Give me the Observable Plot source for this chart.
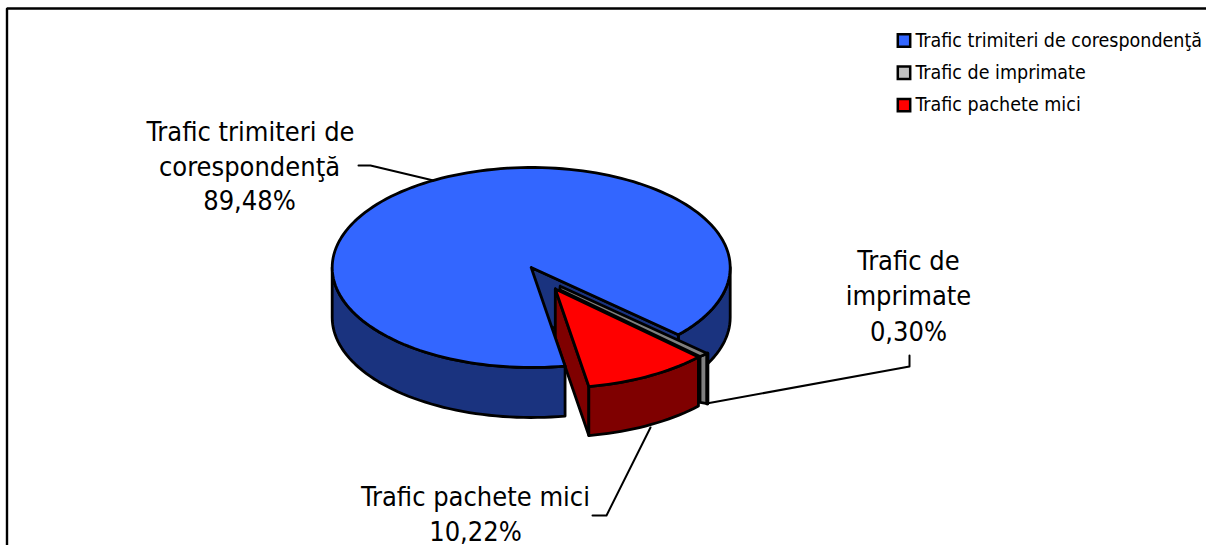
<!DOCTYPE html>
<html><head><meta charset="utf-8">
<script src="https://cdn.jsdelivr.net/npm/d3@7"></script>
<script src="https://cdn.jsdelivr.net/npm/@observablehq/plot@0.6"></script>
<style>html,body{margin:0;padding:0;background:#fff}svg{display:block}</style>
</head><body><div id="chart"></div>
<script>
const categories = ["Trafic trimiteri de corespondenţă", "Trafic de imprimate", "Trafic pachete mici"];
const shares = [89.48, 0.30, 10.22];
const shareLabels = ["89,48%", "0,30%", "10,22%"];
const topColors = ["#3366ff", "#c0c0c0", "#ff0000"];
const wallColors = ["#1a337f", "#808080", "#7f0000"];

const W = 1206, H = 545;
const cx = 530.7, cy = 267, rx = 199, ry = 100, depth = 50;
const startDeg = 80.2;
const strokeW = 2.8;
const font = "'DejaVu Sans Condensed','DejaVu Sans',sans-serif";
// exploded slice placement: [dx, dy, radius scale, depth]
const placeBlue = [0, 0, 1, depth];
const placeGreyUpper = [29, 18.7, 1, depth];
const placeGreyLower = [28.6, 22.3, 0.97, 46];
const placeRed = [24.1, 21.5, 0.99, 49];

let a = startDeg;
const spans = shares.map(s => { const r = [a, a + s * 3.6]; a = r[1]; return r; });
const [blue, grey, red] = spans;
const pt = (p, deg, down = false) => {
  const t = deg * Math.PI / 180;
  return {x: cx + p[0] + p[2] * rx * Math.cos(t), y: cy + p[1] + p[2] * ry * Math.sin(t) + (down ? p[3] : 0)};
};
const apex = (p, down = false) => ({x: cx + p[0], y: cy + p[1] + (down ? p[3] : 0)});
const arc = (p, from, to, down = false) => {
  const n = Math.max(2, Math.ceil(Math.abs(to - from) / 2)), out = [];
  for (let k = 0; k <= n; k++) out.push(pt(p, from + (to - from) * k / n, down));
  return out;
};
const closed = q => [...q, q[0]];
const poly = (q, fill) => Plot.line(closed(q), {x: "x", y: "y", fill, stroke: "#000", strokeWidth: strokeW, strokeLinejoin: "round", curve: "linear"});
const topFace = (p, span, fill) => poly([apex(p), ...arc(p, span[0], span[1])], fill);
const wall = (p, from, to, fill) => poly([...arc(p, from, to), ...arc(p, to, from, true)], fill);
const cut = (p, deg, fill) => poly([apex(p), pt(p, deg), pt(p, deg, true), apex(p, true)], fill);

const leaders = [
  [{x: 358, y: 165}, {x: 370, y: 165}, {x: 433, y: 180}],
  [{x: 909, y: 355}, {x: 909, y: 366}, {x: 706, y: 403}],
  [{x: 592, y: 515}, {x: 606, y: 515}, {x: 650, y: 427}]
];
const labelLines = [
  {t: "Trafic trimiteri de", x: 250, y: 132}, {t: "corespondenţă", x: 249, y: 167}, {t: shareLabels[0], x: 249, y: 201},
  {t: "Trafic de", x: 908, y: 261}, {t: "imprimate", x: 908, y: 296}, {t: shareLabels[1], x: 908, y: 332},
  {t: "Trafic pachete mici", x: 475, y: 497}, {t: shareLabels[2], x: 475, y: 532}
];
const legend = categories.map((c, i) => ({c, color: topColors[i], y: 40 + i * 32.3}));

const plot = Plot.plot({
  width: W, height: H, margin: 0,
  x: {domain: [0, W], range: [0, W], axis: null},
  y: {domain: [0, H], range: [0, H], axis: null},
  marks: [
    Plot.line([{x: 6.5, y: H}, {x: 6.5, y: 8}, {x: W, y: 8}], {x: "x", y: "y", stroke: "#000", strokeWidth: 2.4, strokeLinejoin: "miter"}),
    wall(placeBlue, blue[1], 360, wallColors[0]),
    cut(placeBlue, blue[1], wallColors[0]),
    // the very thin grey slice is drawn as a parallel band
    poly([pt(placeGreyUpper, grey[0]), pt(placeGreyLower, grey[1]), pt(placeGreyLower, grey[1], true), pt(placeGreyUpper, grey[0], true)], wallColors[1]),
    Plot.line([pt(placeGreyUpper, grey[0]), pt(placeGreyUpper, grey[0], true)], {x: "x", y: "y", stroke: "#000", strokeWidth: 4}),
    poly([apex(placeGreyUpper), pt(placeGreyUpper, grey[0]), pt(placeGreyLower, grey[1]), apex(placeGreyLower)], wallColors[1]),
    cut(placeRed, red[1], wallColors[2]),
    wall(placeBlue, blue[0], 180, wallColors[0]),
    topFace(placeBlue, blue, topColors[0]),
    wall(placeRed, red[0], red[1], wallColors[2]),
    topFace(placeRed, red, topColors[2]),
    ...leaders.map(l => Plot.line(l, {x: "x", y: "y", stroke: "#000", strokeWidth: 2})),
    Plot.text(labelLines, {x: "x", y: "y", text: "t", fontSize: 27, fontFamily: font, fill: "#000", textAnchor: "middle"}),
    Plot.dot(legend, {x: 903.5, y: "y", symbol: "square", r: 7, fill: "color", stroke: "#000", strokeWidth: 2.5}),
    Plot.text(legend, {x: 915, y: "y", text: "c", fontSize: 19.5, fontFamily: font, fill: "#000", textAnchor: "start"})
  ]
});
document.getElementById("chart").append(plot);
</script></body></html>
